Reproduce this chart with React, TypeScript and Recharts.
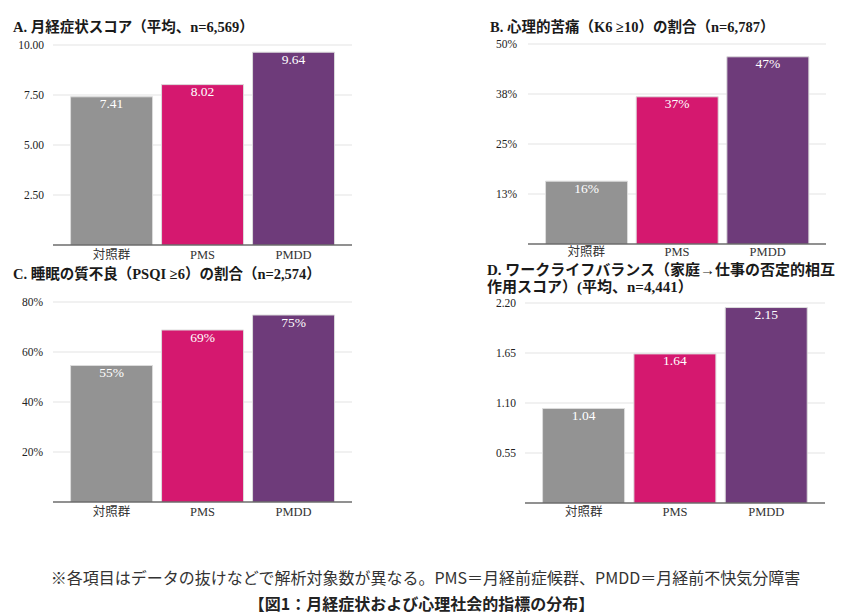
import React from 'react';
import { BarChart, Bar, XAxis, YAxis, CartesianGrid, Cell, LabelList } from 'recharts';

const categories = ['対照群', 'PMS', 'PMDD'];
const colors = ['#939393', '#d5186f', '#6e3b7a'];

const symptomScore = [7.41, 8.02, 9.64];
const distressRate = [0.157, 0.368, 0.468];
const sleepRate = [0.546, 0.688, 0.748];
const wlbScore = [1.04, 1.64, 2.15];

const ticksA = [2.5, 5, 7.5, 10];
const ticksB = [0.125, 0.25, 0.375, 0.5];
const ticksC = [0.2, 0.4, 0.6, 0.8];
const ticksD = [0.55, 1.1, 1.65, 2.2];

const titleA = 'A. 月経症状スコア（平均、n=6,569）';
const titleB = 'B. 心理的苦痛（K6 ≥10）の割合（n=6,787）';
const titleC = 'C. 睡眠の質不良（PSQI ≥6）の割合（n=2,574）';
const titleD1 = 'D. ワークライフバランス（家庭→仕事の否定的相互';
const titleD2 = '作用スコア）(平均、n=4,441）';
const footnote = '※各項目はデータの抜けなどで解析対象数が異なる。PMS＝月経前症候群、PMDD＝月経前不快気分障害';
const caption = '【図1：月経症状および心理社会的指標の分布】';

const serif = "'Liberation Serif', 'DejaVu Serif', 'Noto Sans CJK JP', serif";
const sans = "'Noto Sans CJK JP', 'Noto Sans', sans-serif";

const fmt2 = (v: number) => v.toFixed(2);
const fmtPct = (v: number) => `${Math.round(v * 100)}%`;

type PanelProps = {
  values: number[];
  ticks: number[];
  max: number;
  tickFmt: (v: number) => string;
  labelFmt: (v: number) => string;
  left: number;
  top: number;
  width: number;
  yWidth: number;
  yMargin: number;
  xMargin: number;
};

function Panel({ values, ticks, max, tickFmt, labelFmt, left, top, width, yWidth, yMargin, xMargin }: PanelProps) {
  const data = categories.map((c, i) => ({ name: c, value: values[i] }));
  return (
    <div style={{ position: 'absolute', left, top }}>
      <BarChart
        width={width}
        height={240}
        data={data}
        margin={{ top: 10, right: 10, left: 0, bottom: 0 }}
        barCategoryGap="5%"
      >
        <CartesianGrid vertical={false} stroke="#e3e3e3" strokeWidth={1.2} />
        <XAxis
          dataKey="name"
          height={30}
          padding={{ left: 13, right: 13 }}
          tickLine={false}
          tickSize={0}
          tickMargin={xMargin}
          axisLine={{ stroke: '#333333', strokeWidth: 1.2 }}
          tick={{ fontFamily: serif, fontSize: 12.5, fill: '#333333' }}
        />
        <YAxis
          width={yWidth}
          domain={[0, max]}
          ticks={ticks}
          allowDataOverflow
          axisLine={false}
          tickLine={false}
          tickSize={0}
          tickMargin={yMargin}
          tickFormatter={tickFmt}
          tick={{ fontFamily: serif, fontSize: 11.5, fill: '#222222' }}
        />
        <Bar dataKey="value" isAnimationActive={false} stroke="#dcdcdc" strokeWidth={1}>
          {data.map((d, i) => (
            <Cell key={d.name} fill={colors[i]} />
          ))}
          <LabelList
            dataKey="value"
            position="insideTop"
            offset={2}
            formatter={(v: any) => labelFmt(Number(v))}
            style={{ fontFamily: serif, fontSize: 13.5, fill: '#ffffff' }}
          />
        </Bar>
      </BarChart>
    </div>
  );
}

const titleStyle: React.CSSProperties = {
  position: 'absolute',
  fontFamily: serif,
  fontWeight: 'bold',
  fontSize: 14.5,
  color: '#1a1a1a',
  whiteSpace: 'nowrap',
  lineHeight: '17px',
};

export default function App() {
  return (
    <div style={{ position: 'absolute', left: 0, top: 0, width: 851, height: 614, background: '#ffffff', overflow: 'hidden' }}>
      <div style={{ ...titleStyle, left: 13, top: 19 }}>{titleA}</div>
      <div style={{ ...titleStyle, left: 490, top: 19 }}>{titleB}</div>
      <div style={{ ...titleStyle, left: 13, top: 266 }}>{titleC}</div>
      <div style={{ ...titleStyle, left: 487, top: 262, fontSize: 15, lineHeight: '16.5px' }}>
        {titleD1}
        <br />
        {titleD2}
      </div>

      <Panel values={symptomScore} ticks={ticksA} max={10} tickFmt={fmt2} labelFmt={fmt2}
        left={0} top={35} width={362} yWidth={53} yMargin={9} xMargin={5} />
      <Panel values={distressRate} ticks={ticksB} max={0.5} tickFmt={fmtPct} labelFmt={fmtPct}
        left={470} top={34} width={366} yWidth={58} yMargin={11} xMargin={3} />
      <Panel values={sleepRate} ticks={ticksC} max={0.8} tickFmt={fmtPct} labelFmt={fmtPct}
        left={0} top={292} width={362} yWidth={53} yMargin={10} xMargin={5} />
      <Panel values={wlbScore} ticks={ticksD} max={2.2} tickFmt={fmt2} labelFmt={fmt2}
        left={470} top={293} width={365} yWidth={55} yMargin={9} xMargin={4} />

      <div style={{ position: 'absolute', left: 0, width: 851, top: 566, textAlign: 'center', fontFamily: sans, fontSize: 16, color: '#333333', whiteSpace: 'nowrap', lineHeight: '22px' }}>
        {footnote}
      </div>
      <div style={{ position: 'absolute', left: 0, width: 843, top: 592, textAlign: 'center', fontFamily: sans, fontSize: 16, fontWeight: 'bold', color: '#222222', whiteSpace: 'nowrap', lineHeight: '22px' }}>
        {caption}
      </div>
    </div>
  );
}
